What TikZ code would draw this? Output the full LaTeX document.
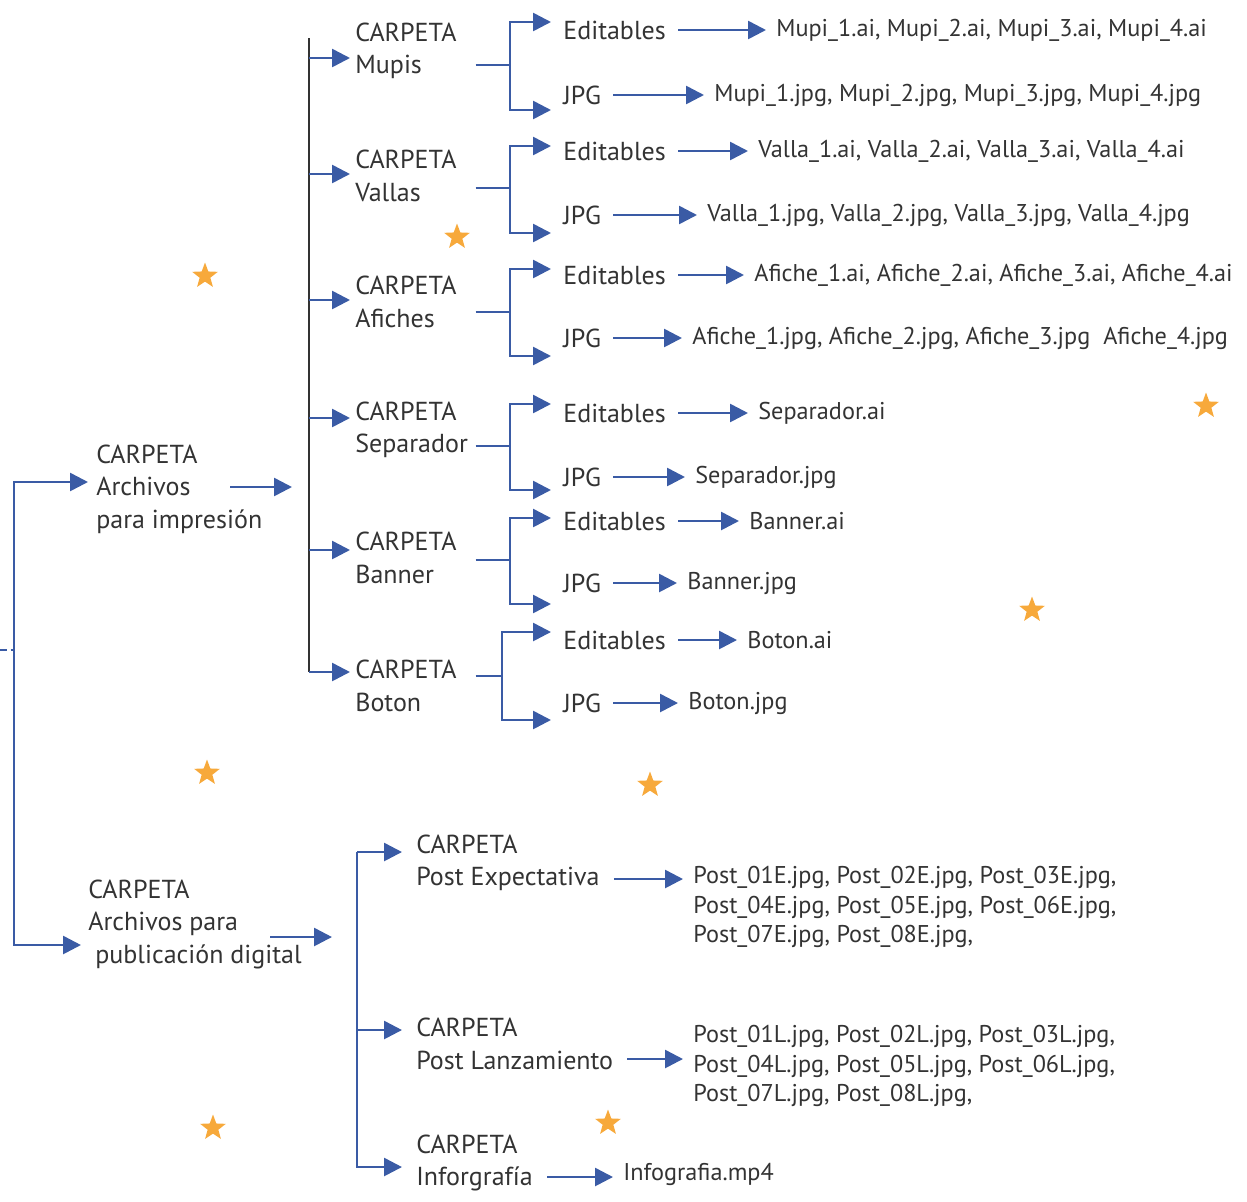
\documentclass[tikz,border=0pt]{standalone}
\usepackage{fontspec}
\setmainfont{PT Sans}
\usetikzlibrary{arrows.meta,shapes.geometric}

\definecolor{linkblue}{HTML}{3A5BA5}
\definecolor{labelgray}{HTML}{333333}
\definecolor{stargold}{HTML}{F7A93B}

\tikzset{
    >={Triangle[length=0.36cm, width=0.36cm]},
    link/.style={draw=linkblue, line width=1.5pt},
    arr/.style={link, ->},
    trunk/.style={draw=labelgray, line width=1.1pt},
    folder/.style={anchor=west, align=left, inner xsep=0.1cm, inner ysep=0pt, text=labelgray, font=\fontsize{14.8}{18.5}\selectfont},
    subfolder/.style={folder, text width=2.3cm},
    ftype/.style={anchor=west, inner xsep=0.24cm, inner ysep=0pt, text=labelgray, font=\fontsize{14.8}{18.5}\selectfont},
    flist/.style={anchor=west, align=left, inner xsep=0.2cm, inner ysep=0pt, text=labelgray, font=\fontsize{13.8}{17}\selectfont},
    deco/.style={star, star points=5, star point ratio=2.4, fill=stargold, draw=none, minimum size=0.54cm, inner sep=0pt}
}

\begin{document}
\begin{tikzpicture}[x=0.02cm, y=-0.02cm]
    \useasboundingbox (0,0) rectangle (1247,1201);

    % root
    \node[folder, inner xsep=0.16cm] (impresion) at (88,489) {CARPETA\\Archivos\\para impresión};
    \node[folder, inner xsep=0.14cm] (digital) at (81,924) {CARPETA\\Archivos para\\\hspace*{0.14cm}publicación digital};

    \coordinate (rootTop) at (14,482);
    \coordinate (rootBot) at (14,945);
    \coordinate (stub) at (0,650);
    \draw[link, <->] (rootTop -| impresion.west) -| (rootBot) -- (rootBot -| digital.west);
    \draw[link, line width=1pt, dash pattern=on 4pt off 2pt] (stub) -- (stub -| rootTop);

    \coordinate (impOut) at (230,487);
    \coordinate (tIn) at (292,487);
    \draw[arr] (impOut) -- (tIn);
    \coordinate (digOut) at (270,937);
    \coordinate (dIn) at (332,937);
    \draw[arr] (digOut) -- (dIn);

    % print folders
    \node[subfolder] (mupis) at (350,51) {CARPETA\\Mupis};
    \node[subfolder] (vallas) at (350,176) {CARPETA\\Vallas};
    \node[subfolder] (afiches) at (350,302) {CARPETA\\Afiches};
    \node[subfolder] (separador) at (350,430) {CARPETA\\Separador};
    \node[subfolder] (banner) at (350,558) {CARPETA\\Banner};
    \node[subfolder] (boton) at (350,686) {CARPETA\\Boton};

    \coordinate (tTop) at (309,38);
    \coordinate (tMupis) at (309,58);
    \coordinate (tVallas) at (309,174);
    \coordinate (tAfiches) at (309,300);
    \coordinate (tSeparador) at (309,418);
    \coordinate (tBanner) at (309,550);
    \coordinate (tBoton) at (309,672);
    \draw[trunk] (tTop) -- (tBoton);
    \draw[arr] (tMupis) -- (tMupis -| mupis.west);
    \draw[arr] (tVallas) -- (tVallas -| vallas.west);
    \draw[arr] (tAfiches) -- (tAfiches -| afiches.west);
    \draw[arr] (tSeparador) -- (tSeparador -| separador.west);
    \draw[arr] (tBanner) -- (tBanner -| banner.west);
    \draw[arr] (tBoton) -- (tBoton -| boton.west);

    % Mupis
    \node[ftype] (edMupis) at (551,30) {Editables};
    \node[ftype] (jpgMupis) at (551,95) {JPG};
    \node[flist] (lsEdMupis) at (766,30) {Mupi\_1.ai, Mupi\_2.ai, Mupi\_3.ai, Mupi\_4.ai};
    \node[flist] (lsJpgMupis) at (704,95) {Mupi\_1.jpg, Mupi\_2.jpg, Mupi\_3.jpg, Mupi\_4.jpg};
    \coordinate (jMupis) at (510,65);
    \draw[link] (mupis.east |- jMupis) -- (jMupis);
    \draw[arr] (jMupis) |- ([yshift=0.16cm]edMupis.west);
    \draw[arr] (jMupis) |- ([yshift=-0.3cm]jpgMupis.west);
    \draw[arr] (edMupis) -- (lsEdMupis);
    \draw[arr] (jpgMupis) -- (lsJpgMupis);

    % Vallas
    \node[ftype] (edVallas) at (551,151) {Editables};
    \node[ftype] (jpgVallas) at (551,215) {JPG};
    \node[flist] (lsEdVallas) at (748,151) {Valla\_1.ai, Valla\_2.ai, Valla\_3.ai, Valla\_4.ai};
    \node[flist] (lsJpgVallas) at (697,215) {Valla\_1.jpg, Valla\_2.jpg, Valla\_3.jpg, Valla\_4.jpg};
    \coordinate (jVallas) at (510,188);
    \draw[link] (vallas.east |- jVallas) -- (jVallas);
    \draw[arr] (jVallas) |- ([yshift=0.1cm]edVallas.west);
    \draw[arr] (jVallas) |- ([yshift=-0.36cm]jpgVallas.west);
    \draw[arr] (edVallas) -- (lsEdVallas);
    \draw[arr] (jpgVallas) -- (lsJpgVallas);

    % Afiches
    \node[ftype] (edAfiches) at (551,275) {Editables};
    \node[ftype] (jpgAfiches) at (551,338) {JPG};
    \node[flist] (lsEdAfiches) at (744,275) {Afiche\_1.ai, Afiche\_2.ai, Afiche\_3.ai, Afiche\_4.ai};
    \node[flist] (lsJpgAfiches) at (682,338) {Afiche\_1.jpg, Afiche\_2.jpg, Afiche\_3.jpg~ Afiche\_4.jpg};
    \coordinate (jAfiches) at (510,312);
    \draw[link] (afiches.east |- jAfiches) -- (jAfiches);
    \draw[arr] (jAfiches) |- ([yshift=0.12cm]edAfiches.west);
    \draw[arr] (jAfiches) |- ([yshift=-0.36cm]jpgAfiches.west);
    \draw[arr] (edAfiches) -- (lsEdAfiches);
    \draw[arr] (jpgAfiches) -- (lsJpgAfiches);

    % Separador
    \node[ftype] (edSeparador) at (551,413) {Editables};
    \node[ftype] (jpgSeparador) at (551,477) {JPG};
    \node[flist] (lsEdSeparador) at (748,413) {Separador.ai};
    \node[flist] (lsJpgSeparador) at (685,477) {Separador.jpg};
    \coordinate (jSeparador) at (510,446);
    \draw[link] (separador.east |- jSeparador) -- (jSeparador);
    \draw[arr] (jSeparador) |- ([yshift=0.18cm]edSeparador.west);
    \draw[arr] (jSeparador) |- ([yshift=-0.26cm]jpgSeparador.west);
    \draw[arr] (edSeparador) -- (lsEdSeparador);
    \draw[arr] (jpgSeparador) -- (lsJpgSeparador);

    % Banner
    \node[ftype] (edBanner) at (551,521) {Editables};
    \node[ftype] (jpgBanner) at (551,583) {JPG};
    \node[flist] (lsEdBanner) at (739,521) {Banner.ai};
    \node[flist] (lsJpgBanner) at (677,583) {Banner.jpg};
    \coordinate (jBanner) at (510,560);
    \draw[link] (banner.east |- jBanner) -- (jBanner);
    \draw[arr] (jBanner) |- ([yshift=0.06cm]edBanner.west);
    \draw[arr] (jBanner) |- ([yshift=-0.42cm]jpgBanner.west);
    \draw[arr] (edBanner) -- (lsEdBanner);
    \draw[arr] (jpgBanner) -- (lsJpgBanner);

    % Boton
    \node[ftype] (edBoton) at (551,640) {Editables};
    \node[ftype] (jpgBoton) at (551,703) {JPG};
    \node[flist] (lsEdBoton) at (737,640) {Boton.ai};
    \node[flist] (lsJpgBoton) at (678,703) {Boton.jpg};
    \coordinate (jBoton) at (502,676);
    \draw[link] (boton.east |- jBoton) -- (jBoton);
    \draw[arr] (jBoton) |- ([yshift=0.16cm]edBoton.west);
    \draw[arr] (jBoton) |- ([yshift=-0.34cm]jpgBoton.west);
    \draw[arr] (edBoton) -- (lsEdBoton);
    \draw[arr] (jpgBoton) -- (lsJpgBoton);

    % digital folders
    \node[folder, inner xsep=0.28cm] (expect) at (402,863) {CARPETA\\Post Expectativa};
    \node[folder, inner xsep=0.28cm] (lanz) at (402,1044) {CARPETA\\Post Lanzamiento};
    \node[folder, inner xsep=0.28cm] (info) at (402,1163) {CARPETA\\Inforgrafía};

    \coordinate (dTop) at (357,852);
    \coordinate (dMid) at (357,1030);
    \coordinate (dBot) at (357,1167);
    \draw[arr] (dTop) -- (dTop -| expect.west);
    \draw[arr] (dMid) -- (dMid -| lanz.west);
    \draw[arr] (dTop) |- (dBot -| info.west);

    \node[flist] (lsExpect) at (683,907) {Post\_01E.jpg, Post\_02E.jpg, Post\_03E.jpg,\\Post\_04E.jpg, Post\_05E.jpg, Post\_06E.jpg,\\Post\_07E.jpg, Post\_08E.jpg,};
    \node[flist] (lsLanz) at (683,1066) {Post\_01L.jpg, Post\_02L.jpg, Post\_03L.jpg,\\Post\_04L.jpg, Post\_05L.jpg, Post\_06L.jpg,\\Post\_07L.jpg, Post\_08L.jpg,};
    \node[flist] (lsInfo) at (613,1174) {Infografia.mp4};

    \draw[arr] ([yshift=-0.32cm]expect.east) -- ([yshift=-0.32cm]expect.east -| lsExpect.west);
    \draw[arr] ([yshift=-0.3cm]lanz.east) -- ([yshift=-0.3cm]lanz.east -| lsLanz.west);
    \draw[arr] ([yshift=-0.28cm]info.east) -- ([yshift=-0.28cm]info.east -| lsInfo.west);

    % stars
    \node[deco] (st1) at (205,276) {};
    \node[deco] (st2) at (457,237) {};
    \node[deco] (st3) at (1206,406) {};
    \node[deco] (st4) at (1032,610) {};
    \node[deco] (st5) at (207,773) {};
    \node[deco] (st6) at (650,785) {};
    \node[deco] (st7) at (213,1128) {};
    \node[deco] (st8) at (608,1123) {};
\end{tikzpicture}
\end{document}
